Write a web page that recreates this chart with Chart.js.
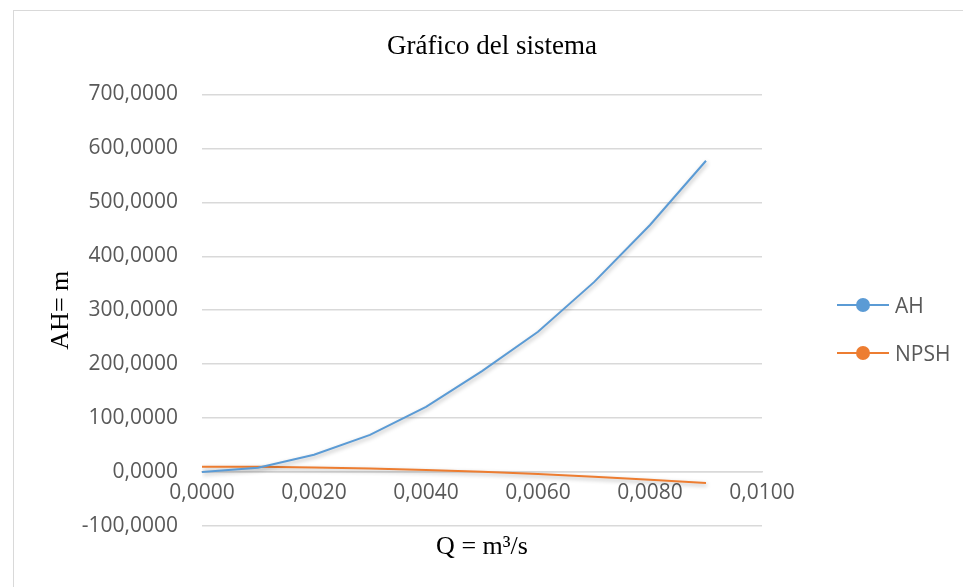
<!DOCTYPE html>
<html lang="es">
<head>
  <meta charset="UTF-8">
  <script src="https://cdn.jsdelivr.net/npm/chart.js"></script>
  <style>
    body, html {
      margin: 0;
      padding: 0;
      background: #ffffff;
      overflow: hidden;
    }
    .frame {
      position: absolute;
      left: 13px;
      top: 10px;
      width: 1000px;
      height: 700px;
      border: 1.5px solid #d9d9d9;
    }
    .chart-box {
      position: absolute;
      left: 0;
      top: 0;
      width: 963px;
      height: 587px;
    }
    .legend {
      position: absolute;
      left: 837px;
      top: 291px;
      font-family: 'Open Sans', sans-serif;
      font-size: 21px;
      color: #595959;
    }
    .legend .item {
      display: flex;
      align-items: center;
      height: 28px;
      margin-bottom: 20px;
    }
    .legend .mark {
      position: relative;
      width: 52px;
      height: 14px;
      margin-right: 6px;
    }
    .legend .mark .ln {
      position: absolute;
      left: 0;
      right: 0;
      top: 6px;
      height: 2px;
    }
    .legend .mark .dot {
      position: absolute;
      left: 19px;
      top: 0;
      width: 14px;
      height: 14px;
      border-radius: 50%;
    }
  </style>
</head>
<body>
  <div class="frame"></div>
  <div class="chart-box">
    <canvas id="sistemaChart" width="963" height="587"></canvas>
  </div>
  <div class="legend" id="legend"></div>

  <script>
    // Caudal (m3/s)
    const qValues = [0, 0.001, 0.002, 0.003, 0.004, 0.005, 0.006, 0.007, 0.008, 0.009];
    // Altura del sistema
    const ahValues = [0, 8, 32, 69, 121, 187, 260, 352, 458, 577];
    // NPSH disponible
    const npshValues = [10, 9.6, 8.5, 6.6, 4, 0.6, -3.6, -8.5, -14.5, -20.5];

    const seriesNames = ['AH', 'NPSH'];
    const seriesColors = ['#5b9bd5', '#ed7d31'];

    const fmt = v => Number(v).toFixed(4).replace('.', ',');

    function toPoints(ys) {
      return qValues.map((q, i) => ({ x: q, y: ys[i] }));
    }

    // soft shadow under the lines, like the original
    const lineShadow = {
      id: 'lineShadow',
      beforeDatasetsDraw(chart) {
        const ctx = chart.ctx;
        ctx.save();
        ctx.shadowColor = 'rgba(0,0,0,0.3)';
        ctx.shadowBlur = 4;
        ctx.shadowOffsetX = 1;
        ctx.shadowOffsetY = 2;
      },
      afterDatasetsDraw(chart) {
        chart.ctx.restore();
      }
    };

    const ctx = document.getElementById('sistemaChart').getContext('2d');
    new Chart(ctx, {
      type: 'line',
      data: {
        datasets: [
          {
            label: seriesNames[0],
            data: toPoints(ahValues),
            borderColor: seriesColors[0],
            backgroundColor: seriesColors[0],
            borderWidth: 2,
            pointRadius: 0,
            tension: 0
          },
          {
            label: seriesNames[1],
            data: toPoints(npshValues),
            borderColor: seriesColors[1],
            backgroundColor: seriesColors[1],
            borderWidth: 2,
            pointRadius: 0,
            tension: 0
          }
        ]
      },
      options: {
        responsive: false,
        animation: false,
        layout: {
          padding: { left: 21, right: 0, top: 0, bottom: 61 }
        },
        plugins: {
          legend: { display: false },
          tooltip: { enabled: false },
          title: {
            display: true,
            text: 'Gráfico del sistema',
            color: '#000000',
            font: { family: "'Liberation Serif', serif", size: 27, weight: 'normal' },
            padding: { top: 31, bottom: 31 }
          }
        },
        scales: {
          x: {
            type: 'linear',
            position: { y: 0 },
            min: 0,
            max: 0.01,
            afterFit: s => { s.height = 63; },
            grid: { display: false, drawTicks: false },
            border: { display: true, color: '#d9d9d9', width: 1.5 },
            ticks: {
              stepSize: 0.002,
              padding: 8,
              color: '#595959',
              font: { family: "'Open Sans', sans-serif", size: 21 },
              callback: v => fmt(v)
            },
            title: {
              display: true,
              text: 'Q = m³/s',
              color: '#000000',
              font: { family: "'Liberation Serif', serif", size: 26 },
              padding: { top: 0, bottom: -28 }
            }
          },
          y: {
            min: -100,
            max: 700,
            afterFit: s => { s.width = 181; },
            grid: { color: '#d9d9d9', lineWidth: 1.5, drawTicks: false },
            border: { display: false },
            ticks: {
              stepSize: 100,
              padding: 24,
              color: '#595959',
              font: { family: "'Open Sans', sans-serif", size: 21 },
              callback: v => fmt(v)
            },
            title: {
              display: true,
              text: 'AH= m',
              color: '#000000',
              font: { family: "'Liberation Serif', serif", size: 26 },
              padding: { top: 25, bottom: 0 }
            }
          },
          // empty right axis, keeps room for the legend
          yRight: {
            position: 'right',
            display: true,
            min: -100,
            max: 700,
            afterFit: s => { s.width = 201; },
            grid: { display: false },
            border: { display: false },
            ticks: { display: false }
          }
        }
      },
      plugins: [lineShadow]
    });

    // legend: line with a round marker, as in the original
    const legendEl = document.getElementById('legend');
    seriesNames.forEach((name, i) => {
      const item = document.createElement('div');
      item.className = 'item';
      item.innerHTML =
        '<span class="mark"><span class="ln" style="background:' + seriesColors[i] + '"></span>' +
        '<span class="dot" style="background:' + seriesColors[i] + '"></span></span>' +
        '<span>' + name + '</span>';
      legendEl.appendChild(item);
    });
  </script>
</body>
</html>
